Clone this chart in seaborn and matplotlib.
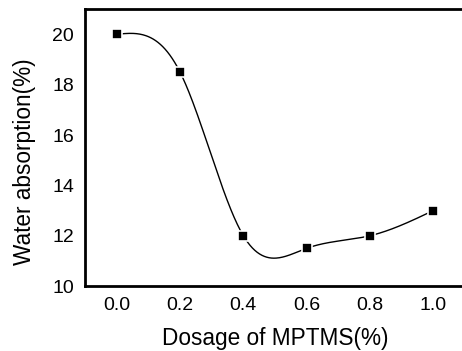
import numpy as np
import pandas as pd
import matplotlib
matplotlib.use("Agg")
import matplotlib.pyplot as plt
import seaborn as sns

# Water absorption versus MPTMS dosage
dosage = [0.0, 0.2, 0.4, 0.6, 0.8, 1.0]
absorption = [20.0, 18.5, 12.0, 11.5, 12.0, 13.0]
x_ticks = [0.0, 0.2, 0.4, 0.6, 0.8, 1.0]
y_ticks = [10, 12, 14, 16, 18, 20]

df = pd.DataFrame({"dosage": dosage, "absorption": absorption})


def natural_spline(x, y, xs):
    """Evaluate a natural cubic spline through (x, y) at xs."""
    x = np.asarray(x, float)
    y = np.asarray(y, float)
    n = len(x)
    h = np.diff(x)
    A = np.zeros((n, n))
    b = np.zeros(n)
    A[0, 0] = A[-1, -1] = 1.0
    for i in range(1, n - 1):
        A[i, i - 1] = h[i - 1]
        A[i, i] = 2 * (h[i - 1] + h[i])
        A[i, i + 1] = h[i]
        b[i] = 3 * ((y[i + 1] - y[i]) / h[i] - (y[i] - y[i - 1]) / h[i - 1])
    c = np.linalg.solve(A, b)
    idx = np.clip(np.searchsorted(x, xs) - 1, 0, n - 2)
    dx = xs - x[idx]
    hi = h[idx]
    bb = (y[idx + 1] - y[idx]) / hi - hi * (2 * c[idx] + c[idx + 1]) / 3
    d = (c[idx + 1] - c[idx]) / (3 * hi)
    return y[idx] + bb * dx + c[idx] * dx ** 2 + d * dx ** 3


sns.set_style("ticks")
plt.rcParams["font.family"] = ["Liberation Sans", "DejaVu Sans"]
plt.rcParams["text.color"] = "black"
plt.rcParams["axes.labelcolor"] = "black"
plt.rcParams["xtick.color"] = "black"
plt.rcParams["ytick.color"] = "black"

fig = plt.figure(figsize=(4.62, 3.51), dpi=100)
ax = fig.add_axes([0.184, 0.185, 380 / 462, 0.789])

xs = np.linspace(dosage[0], dosage[-1], 400)
curve = pd.DataFrame({"dosage": xs, "absorption": natural_spline(dosage, absorption, xs)})
sns.lineplot(data=curve, x="dosage", y="absorption", ax=ax, color="black",
             linewidth=1.0, zorder=2)
sns.scatterplot(data=df, x="dosage", y="absorption", ax=ax, marker="s", s=42,
                color="black", edgecolor="white", linewidth=1.2, zorder=3)

ax.set_xlim(-0.1, 1.1)
ax.set_ylim(10, 21)
ax.set_xticks(x_ticks)
ax.set_xticklabels([f"{v:.1f}" for v in x_ticks])
ax.set_yticks(y_ticks)
ax.set_yticklabels([str(v) for v in y_ticks])
ax.tick_params(axis="both", length=0, labelsize=14, pad=8, labelcolor="black")
ax.set_xlabel("Dosage of MPTMS(%)", fontsize=16.3, labelpad=9)
ax.set_ylabel("Water absorption(%)", fontsize=16.3)
ax.yaxis.set_label_coords(-0.129, 0.448)
for side in ["left", "bottom", "top", "right"]:
    ax.spines[side].set_linewidth(2.0)
    ax.spines[side].set_color("black")

fig.savefig("out.png", dpi=100)
